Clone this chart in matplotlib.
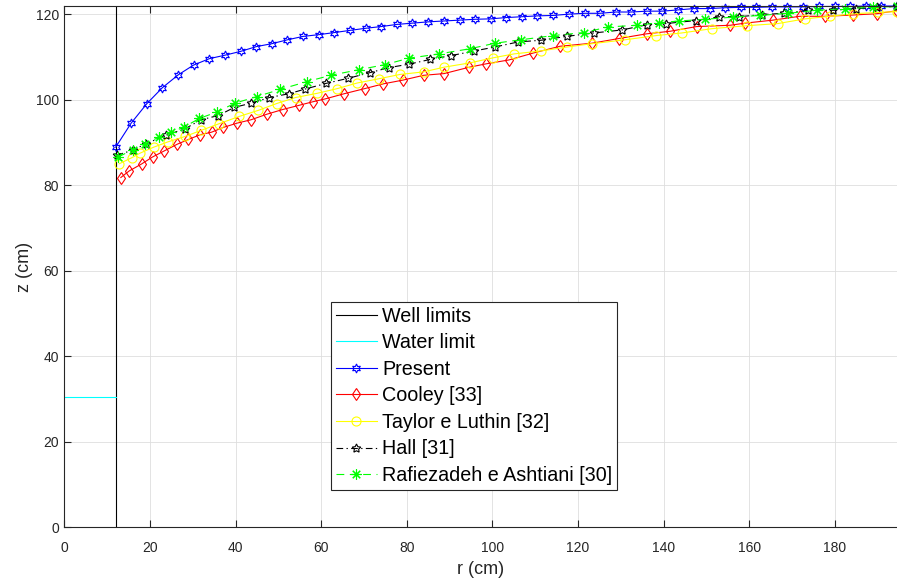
"""Water table profile around a well: present model vs. classic formulas."""

import matplotlib
matplotlib.use("Agg")
import matplotlib.pyplot as plt

plt.rcParams["font.family"] = ["Liberation Sans", "DejaVu Sans"]

# ---- data -------------------------------------------------------------
well_r = 12.0
top_z = 121.9
water_z = 30.5

r_present = [12.0, 15.6, 19.3, 22.9, 26.6, 30.2, 33.9, 37.5, 41.2, 44.8,
             48.5, 52.1, 55.8, 59.4, 63.1, 66.7, 70.4, 74.0, 77.7, 81.3,
             85.0, 88.6, 92.3, 95.9, 99.6, 103.2, 106.9, 110.5, 114.2, 117.8,
             121.5, 125.1, 128.8, 132.4, 136.1, 139.7, 143.4, 147.0, 150.7, 154.3,
             158.0, 161.6, 165.3, 168.9, 172.6, 176.2, 179.9, 183.5, 187.2, 190.8,
             194.4]
z_present = [88.9, 94.5, 99.1, 102.8, 105.8, 108.1, 109.6, 110.4, 111.3, 112.4,
             113.1, 114.0, 114.8, 115.2, 115.7, 116.2, 116.7, 117.1, 117.6, 117.9,
             118.2, 118.4, 118.6, 118.8, 118.9, 119.2, 119.4, 119.6, 119.7, 120.0,
             120.2, 120.2, 120.5, 120.5, 120.7, 120.7, 121.0, 121.3, 121.3, 121.5,
             121.6, 121.6, 121.7, 121.7, 121.7, 121.8, 121.8, 121.8, 121.9, 121.9,
             121.9]

r_cooley = [13.2, 15.1, 18.1, 20.6, 23.3, 26.4, 29.0, 31.7, 34.4, 37.1,
            40.3, 43.6, 47.3, 51.0, 54.9, 58.0, 61.0, 65.4, 70.2, 74.5,
            79.2, 83.9, 88.7, 94.6, 98.6, 103.9, 109.5, 115.8, 123.2, 129.5,
            136.0, 141.5, 147.7, 155.5, 159.0, 165.5, 171.8, 177.6, 184.3, 189.7,
            194.4]
z_cooley = [81.8, 83.3, 85.0, 86.6, 88.0, 89.6, 90.7, 91.8, 92.4, 93.5,
            94.5, 95.3, 96.6, 97.7, 98.7, 99.5, 100.2, 101.4, 102.6, 103.7,
            104.6, 105.7, 106.1, 107.6, 108.4, 109.3, 110.9, 112.5, 113.2, 114.3,
            115.4, 116.0, 117.1, 117.4, 117.9, 118.6, 119.5, 119.5, 119.8, 120.1,
            120.8]

r_taylor = [12.8, 15.7, 17.7, 20.9, 24.1, 28.2, 31.9, 36.2, 40.9, 45.3,
            49.6, 54.0, 59.1, 63.8, 68.4, 73.5, 78.4, 83.9, 88.7, 94.7,
            100.2, 105.0, 111.3, 117.3, 123.3, 130.9, 138.3, 144.2, 151.2, 159.4,
            166.7, 173.0, 178.8, 184.3, 190.0, 194.4]
z_taylor = [85.0, 86.4, 87.5, 88.9, 90.1, 91.4, 92.8, 94.4, 96.1, 97.5,
            99.1, 100.5, 101.5, 102.6, 103.9, 104.9, 105.9, 106.5, 107.6, 108.6,
            109.8, 110.7, 111.4, 112.3, 113.1, 114.0, 115.0, 115.6, 116.6, 117.3,
            117.8, 118.9, 119.5, 120.1, 120.4, 120.6]

r_hall = [12.2, 16.0, 19.1, 23.8, 28.2, 31.9, 36.0, 39.7, 43.7, 47.9,
          52.5, 56.3, 61.1, 66.3, 71.3, 75.8, 80.5, 85.4, 90.3, 95.8,
          100.5, 106.0, 111.4, 117.3, 123.7, 130.2, 136.0, 140.5, 147.5, 152.9,
          157.6, 163.0, 168.0, 173.8, 179.6, 185.0, 189.7, 194.4]
z_hall = [87.0, 88.2, 89.7, 91.7, 93.2, 95.3, 96.3, 98.2, 99.2, 100.5,
          101.4, 102.5, 103.8, 105.0, 106.3, 107.5, 108.3, 109.4, 110.3, 111.4,
          112.3, 113.5, 113.9, 114.8, 115.6, 116.3, 117.5, 117.8, 118.5, 119.4,
          119.4, 119.9, 120.2, 120.9, 120.9, 121.3, 121.6, 121.8]

r_rafie = [12.6, 16.0, 18.8, 22.0, 25.0, 28.0, 31.5, 35.6, 39.9, 44.9,
           50.4, 56.6, 62.2, 68.8, 74.9, 80.5, 87.5, 94.7, 100.6, 106.6,
           114.2, 121.4, 127.0, 133.7, 138.9, 143.6, 149.6, 156.2, 162.5, 169.1,
           175.7, 182.3, 188.9, 194.4]
z_rafie = [86.6, 88.3, 89.6, 91.2, 92.4, 93.6, 95.6, 97.1, 99.2, 100.7,
           102.4, 104.2, 105.7, 107.0, 108.2, 109.7, 110.7, 111.9, 113.2, 114.0,
           115.0, 115.7, 117.0, 117.4, 118.0, 118.4, 118.8, 119.3, 119.7, 120.2,
           120.9, 121.3, 121.6, 121.8]

x_ticks = [0, 20, 40, 60, 80, 100, 120, 140, 160, 180]
y_ticks = [0, 20, 40, 60, 80, 100, 120]

# ---- figure ------------------------------------------------------------
axis_grey = (0.15, 0.15, 0.15)
fig = plt.figure(figsize=(8.97, 5.85), dpi=100)
ax = fig.add_axes([0.0717, 0.0986, 0.9284, 0.8911])

lw = 0.8
mk = dict(mfc="none", mew=0.8, clip_on=False)
ax.plot([well_r, well_r], [0, top_z], color="black", lw=lw, label="Well limits")
ax.plot([0, well_r], [water_z, water_z], color="cyan", lw=lw, label="Water limit")
ax.plot(r_present, z_present, color="blue", lw=lw, marker=(6, 1, 0), ms=6.5,
        label="Present", **mk)
ax.plot(r_cooley, z_cooley, color="red", lw=lw, marker="d", ms=6.5,
        label="Cooley [33]", **mk)
ax.plot(r_taylor, z_taylor, color="yellow", lw=lw, marker="o", ms=6.5,
        label="Taylor e Luthin [32]", **mk)
ax.plot(r_hall, z_hall, color="black", lw=lw, dashes=(6, 3, 1.2, 3),
        marker=(5, 1, 0), ms=6.5, label="Hall [31]", **mk)
ax.plot(r_rafie, z_rafie, color=(0, 1, 0), lw=lw, dashes=(7, 5),
        marker=(8, 2, 0), ms=7.5, label="Rafiezadeh e Ashtiani [30]", **mk)

ax.set_xlim(0, 194.5)
ax.set_ylim(0, top_z)
ax.set_xticks(x_ticks)
ax.set_yticks(y_ticks)
ax.grid(True, color="#dedede", lw=0.6)
ax.set_axisbelow(True)

for side, sp in ax.spines.items():
    sp.set_color(axis_grey)
    sp.set_linewidth(0.8)
ax.spines["right"].set_visible(False)
ax.tick_params(direction="in", length=5, width=0.8, color=axis_grey,
               labelcolor=axis_grey, labelsize=10, top=True, right=False)
ax.tick_params(axis="x", pad=10)
ax.tick_params(axis="y", pad=4)

ax.set_xlabel("r (cm)", fontsize=13, color=axis_grey, labelpad=4)
ax.set_ylabel("z (cm)", fontsize=13, color=axis_grey, labelpad=2)

leg = ax.legend(loc="lower left", bbox_to_anchor=(0.320, 0.0716),
                borderaxespad=0, fontsize=14.2, handlelength=2.1,
                handletextpad=0.26, labelspacing=0.385, borderpad=0.25,
                fancybox=False, framealpha=1, edgecolor=axis_grey)
leg.get_frame().set_linewidth(0.8)

fig.savefig("out.png", dpi=100)
